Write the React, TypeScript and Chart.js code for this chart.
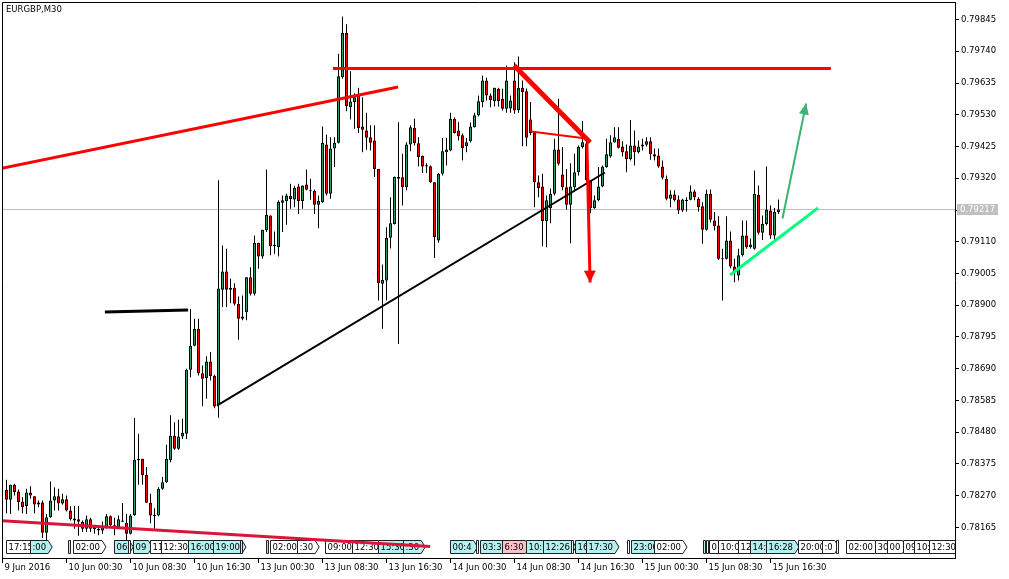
import { useEffect, useRef } from "react";
import { Chart, registerables } from "chart.js";

Chart.register(...registerables);

// ---- data -------------------------------------------------------------
const symbolTitle = "EURGBP,M30";
const FIRST_BAR = 1; // bar index of first candle (bar 0 = 9 Jun 16:30)

const opens = [
  0.7829, 0.78257, 0.78306, 0.78284, 0.78251, 0.78236, 0.78281, 0.78268, 0.78248, 0.78248,
  0.78148, 0.78199, 0.78254, 0.78268, 0.78244, 0.78258, 0.78221, 0.78195, 0.78192, 0.78184,
  0.78161, 0.78192, 0.7817, 0.78155, 0.78155, 0.78164, 0.78202, 0.78172, 0.78166, 0.78188,
  0.78181, 0.78144, 0.78206, 0.78392, 0.78392, 0.78339, 0.78247, 0.78207, 0.78205, 0.78293,
  0.78315, 0.78387, 0.78468, 0.78425, 0.78466, 0.78475, 0.78687, 0.78766, 0.78822, 0.78675,
  0.78659, 0.78714, 0.78666, 0.78572, 0.78951, 0.79012, 0.78951, 0.78958, 0.78905, 0.78855,
  0.78877, 0.78993, 0.78938, 0.79107, 0.79061, 0.79148, 0.79197, 0.79095, 0.79092, 0.79239,
  0.79244, 0.79261, 0.7925, 0.79293, 0.79245, 0.79299, 0.7928, 0.79279, 0.79232, 0.79241,
  0.79432, 0.79269, 0.79418, 0.79437, 0.79654, 0.798, 0.79555, 0.79572, 0.79594, 0.79491,
  0.79478, 0.79456, 0.79445, 0.79351, 0.78971, 0.78982, 0.79123, 0.79169, 0.79324, 0.79323,
  0.7929, 0.79432, 0.79487, 0.79436, 0.79394, 0.79359, 0.7936, 0.79307, 0.79114, 0.79335,
  0.79406, 0.79412, 0.79517, 0.79478, 0.79462, 0.79426, 0.79443, 0.79489, 0.79528, 0.79572,
  0.79643, 0.79594, 0.79575, 0.79616, 0.79583, 0.7955, 0.79551, 0.79643, 0.79546, 0.79619,
  0.79608, 0.79514, 0.7947, 0.79307, 0.79293, 0.79178, 0.79222, 0.79269, 0.79415, 0.79332,
  0.7929, 0.79232, 0.7929, 0.7934, 0.79423, 0.79435, 0.79313, 0.79221, 0.79247, 0.79293,
  0.79357, 0.79392, 0.79438, 0.79451, 0.79425, 0.79409, 0.79384, 0.79428, 0.79406, 0.79425,
  0.79431, 0.79442, 0.79399, 0.79395, 0.79359, 0.79318, 0.79252, 0.79266, 0.7925, 0.79213,
  0.79249, 0.79249, 0.79276, 0.79252, 0.79227, 0.7915, 0.79269, 0.7918, 0.79164, 0.79054,
  0.79054, 0.79114, 0.79028, 0.78998, 0.79065, 0.79131, 0.79092, 0.79087, 0.79265, 0.7914,
  0.79169, 0.79213, 0.79131, 0.79208,
];
const highs = [
  0.78323, 0.78306, 0.7831, 0.78291, 0.78265, 0.78293, 0.78301, 0.78268, 0.78254, 0.78254,
  0.7821, 0.78317, 0.78298, 0.78293, 0.78277, 0.78271, 0.78235, 0.78237, 0.78236, 0.78188,
  0.78205, 0.78197, 0.78174, 0.78172, 0.78185, 0.7821, 0.78205, 0.78197, 0.78205, 0.78246,
  0.7821, 0.7821, 0.78527, 0.78475, 0.78392, 0.78365, 0.78277, 0.78229, 0.78298, 0.78332,
  0.78439, 0.78536, 0.78513, 0.78521, 0.78525, 0.7869, 0.78888, 0.78855, 0.78855, 0.78701,
  0.78731, 0.78745, 0.7867, 0.79313, 0.79098, 0.79087, 0.78988, 0.78973, 0.78929, 0.78932,
  0.78993, 0.79026, 0.79131, 0.79107, 0.7915, 0.79349, 0.79197, 0.79144, 0.79247, 0.79263,
  0.79269, 0.79302, 0.79294, 0.79302, 0.79296, 0.79349, 0.79318, 0.79283, 0.79263, 0.79491,
  0.79464, 0.79456, 0.79456, 0.79732, 0.79855, 0.79829, 0.79674, 0.79601, 0.79619, 0.79588,
  0.79537, 0.79495, 0.79495, 0.79351, 0.79035, 0.79158, 0.79257, 0.79326, 0.79505, 0.79401,
  0.79439, 0.79495, 0.79517, 0.79456, 0.79395, 0.7937, 0.79362, 0.79307, 0.79337, 0.79453,
  0.79454, 0.79537, 0.79521, 0.79505, 0.79468, 0.79453, 0.79504, 0.79537, 0.79594, 0.7966,
  0.79652, 0.796, 0.79619, 0.79619, 0.79616, 0.79693, 0.79594, 0.79704, 0.79723, 0.79643,
  0.79617, 0.79572, 0.79471, 0.79329, 0.79335, 0.79263, 0.79286, 0.79451, 0.79583, 0.79423,
  0.79351, 0.7937, 0.79401, 0.79428, 0.79509, 0.79451, 0.79313, 0.79263, 0.79357, 0.79362,
  0.79451, 0.79462, 0.79489, 0.79489, 0.79442, 0.79432, 0.79513, 0.79478, 0.79445, 0.79451,
  0.79456, 0.79456, 0.79418, 0.79418, 0.79379, 0.79329, 0.7928, 0.7928, 0.79263, 0.79252,
  0.79257, 0.79296, 0.79282, 0.79257, 0.79241, 0.79282, 0.79283, 0.79208, 0.79194, 0.79087,
  0.79194, 0.79144, 0.79054, 0.79087, 0.7918, 0.7918, 0.79121, 0.79346, 0.79296, 0.79197,
  0.79359, 0.7923, 0.79222, 0.7925,
];
const lows = [
  0.78212, 0.7821, 0.78271, 0.78221, 0.78212, 0.7821, 0.7826, 0.78212, 0.78232, 0.7813,
  0.7812, 0.78197, 0.78221, 0.78221, 0.7824, 0.78218, 0.78188, 0.78161, 0.78138, 0.7815,
  0.7815, 0.7815, 0.78144, 0.78139, 0.78144, 0.78161, 0.78166, 0.78139, 0.78161, 0.78183,
  0.7812, 0.78142, 0.78204, 0.78306, 0.78306, 0.78246, 0.78179, 0.78161, 0.78202, 0.7829,
  0.78312, 0.78381, 0.78422, 0.78422, 0.78458, 0.78458, 0.78662, 0.78764, 0.78668, 0.78566,
  0.78591, 0.78651, 0.78559, 0.78528, 0.78894, 0.78894, 0.78907, 0.78899, 0.78786, 0.7885,
  0.7885, 0.78932, 0.78932, 0.79021, 0.79054, 0.79142, 0.79065, 0.7907, 0.79061, 0.79142,
  0.79166, 0.79219, 0.79224, 0.79202, 0.79219, 0.7928, 0.79249, 0.79202, 0.79155, 0.79239,
  0.79263, 0.79252, 0.79357, 0.79435, 0.79649, 0.79542, 0.79514, 0.79484, 0.7947, 0.79406,
  0.79414, 0.79412, 0.79324, 0.78916, 0.78822, 0.78916, 0.79088, 0.79167, 0.78772, 0.7923,
  0.7928, 0.79409, 0.79428, 0.79359, 0.79337, 0.79337, 0.79304, 0.79056, 0.79107, 0.79329,
  0.79362, 0.79409, 0.79468, 0.79445, 0.79379, 0.79406, 0.79438, 0.79488, 0.79524, 0.79555,
  0.79577, 0.79555, 0.79557, 0.79557, 0.79544, 0.79537, 0.79537, 0.79533, 0.79537, 0.79426,
  0.79426, 0.79462, 0.79224, 0.79257, 0.79095, 0.79092, 0.79171, 0.79263, 0.79362, 0.7928,
  0.79217, 0.79105, 0.7928, 0.79329, 0.79418, 0.79306, 0.79204, 0.79219, 0.79244, 0.7929,
  0.79355, 0.79388, 0.79438, 0.79418, 0.79392, 0.7934, 0.79379, 0.79362, 0.79402, 0.79412,
  0.79425, 0.79381, 0.79379, 0.79355, 0.79316, 0.79247, 0.79224, 0.79243, 0.79202, 0.79208,
  0.7921, 0.79247, 0.79247, 0.7921, 0.79103, 0.79147, 0.79174, 0.79147, 0.7905, 0.78916,
  0.79051, 0.79022, 0.78976, 0.78982, 0.79061, 0.79087, 0.79088, 0.79084, 0.79134, 0.79116,
  0.79164, 0.7912, 0.79116, 0.79202,
];
const closes = [
  0.78257, 0.78306, 0.78282, 0.78249, 0.78232, 0.78281, 0.78271, 0.78241, 0.78241, 0.78148,
  0.78199, 0.78254, 0.78268, 0.78244, 0.78258, 0.78221, 0.78193, 0.78188, 0.78184, 0.78161,
  0.78192, 0.78161, 0.78159, 0.7816, 0.78166, 0.78202, 0.78172, 0.78164, 0.78192, 0.78184,
  0.78144, 0.78205, 0.78389, 0.78387, 0.78339, 0.78247, 0.78205, 0.78203, 0.78293, 0.78315,
  0.78392, 0.78468, 0.78425, 0.78466, 0.78478, 0.78687, 0.78766, 0.78822, 0.78675, 0.78657,
  0.78714, 0.78666, 0.78565, 0.78955, 0.79012, 0.78951, 0.78958, 0.78905, 0.78855, 0.78863,
  0.78993, 0.78938, 0.79107, 0.79061, 0.7915, 0.79199, 0.79095, 0.791, 0.79242, 0.79247,
  0.79263, 0.79251, 0.79288, 0.79245, 0.79296, 0.79282, 0.79277, 0.79232, 0.79245, 0.79437,
  0.79269, 0.79418, 0.79437, 0.79657, 0.798, 0.79558, 0.79574, 0.79588, 0.79486, 0.7948,
  0.79454, 0.79437, 0.79351, 0.78973, 0.78984, 0.79122, 0.79171, 0.79324, 0.79318, 0.7929,
  0.79432, 0.79489, 0.79436, 0.7939, 0.79359, 0.79363, 0.79307, 0.79125, 0.79335, 0.79409,
  0.79415, 0.79517, 0.79469, 0.79459, 0.7942, 0.79439, 0.79491, 0.79528, 0.79575, 0.79643,
  0.79594, 0.79579, 0.79619, 0.79575, 0.7955, 0.79643, 0.79577, 0.79544, 0.79619, 0.79605,
  0.79454, 0.7947, 0.79307, 0.79288, 0.79178, 0.79247, 0.79269, 0.79415, 0.79368, 0.7929,
  0.79232, 0.79293, 0.7934, 0.79423, 0.79439, 0.79313, 0.79221, 0.79247, 0.79293, 0.79359,
  0.79399, 0.79439, 0.79456, 0.79421, 0.79406, 0.79384, 0.79428, 0.79406, 0.79425, 0.79432,
  0.79442, 0.79399, 0.79392, 0.79359, 0.79322, 0.79252, 0.79266, 0.79247, 0.79213, 0.7925,
  0.79244, 0.79276, 0.79257, 0.79224, 0.7915, 0.79269, 0.79183, 0.79161, 0.79054, 0.79052,
  0.79114, 0.79028, 0.79009, 0.79065, 0.79131, 0.79092, 0.79101, 0.79269, 0.7914, 0.79169,
  0.79216, 0.79131, 0.79208, 0.79217,
];

const priceTicks = [
  0.78165, 0.7827, 0.78375, 0.7848, 0.78585, 0.7869, 0.78795, 0.789, 0.79005,
  0.7911, 0.79215, 0.7932, 0.79425, 0.7953, 0.79635, 0.7974, 0.79845,
];
const hiddenPriceTicks = [0.79215]; // covered by the bid label
const timeTickBars = [0, 16, 32, 48, 64, 80, 96, 112, 128, 144, 160, 176, 192];
const timeTickLabels = [
  "9 Jun 2016", "10 Jun 00:30", "10 Jun 08:30", "10 Jun 16:30", "13 Jun 00:30",
  "13 Jun 08:30", "13 Jun 16:30", "14 Jun 00:30", "14 Jun 08:30", "14 Jun 16:30",
  "15 Jun 00:30", "15 Jun 08:30", "15 Jun 16:30",
];

// analyst drawings: [bar, price] pairs
const redRisingLine = [[-0.6, 0.79352], [98.9, 0.79622]];
const redResistance = [[82.6, 0.79683], [207.1, 0.79683]];
const redThickDiagonal = [[127.9, 0.79693], [146.9, 0.79438]];
const redThinLine = [[132.1, 0.79475], [146.4, 0.79451]];
const redDownArrow = [[146.1, 0.79435], [146.9, 0.78975]];
const blackSupport = [[53.6, 0.78568], [150.6, 0.79339]];
const blackShortLine = [[25.6, 0.78878], [46.4, 0.78884]];
const crimsonLowLine = [[-0.6, 0.78188], [106.9, 0.78102]];
const greenSupport = [[181.9, 0.79], [203.9, 0.79222]];
const greenUpArrow = [[195, 0.79187], [200.9, 0.79567]];

// calendar event tags along the bottom
const eventBars = [
  0.9, 6.9, 16.4, 17.6, 27.9, 31.4, 32.6, 36.9, 39.6, 46.4, 52.6, 59.4, 65.9, 66.9, 73.6,
  80.6, 87.4, 93.9, 100.1, 111.9, 118.4, 119.4, 124.9, 130.9, 135.1, 142.1, 143.1, 145.9,
  156.1, 157.1, 162.9, 175.1, 175.9, 176.6, 178.9, 183.9, 186.9, 190.9, 198.9, 204.9, 208.4,
  210.9, 218.1, 221.1, 225.1, 227.9, 231.6,
];
const eventTexts = [
  "17:15", ":00", "", "02:00", "06", "", "09", "11", "12:30", "16:00", "19:00", "", "",
  "02:00", ":30", "09:00", "12:30", "15:30", ":30", "00:4", "", "03:30", "6:30", "10:",
  "12:26", "", "16", "17:30", "", "23:00", "02:00", "", "", "0", "10:0", "12", "14:",
  "16:28", "20:00", ":0", "", "02:00", "30", "00", "09", "10:", "12:30",
];
const eventKinds = "wccwcwcwwcccpwwwwcccwcpccwccwcwcwwwwccwwwwwwwww";

// ---- chart -------------------------------------------------------------
const FONT = "'DejaVu Sans', Verdana, sans-serif";
const FONT_SIZE = 8.5;
const X_MIN = -0.125;
const X_MAX = X_MIN + 953 / 4;
const Y_MIN = 0.780641;
const Y_MAX = 0.799029;
const BULL = "#2E9E5E";
const BEAR = "#FF0000";

export default function App() {
  const ref = useRef<HTMLCanvasElement>(null);

  useEffect(() => {
    const canvas = ref.current;
    if (!canvas) return;
    const bars = opens.map((_, k) => FIRST_BAR + k);
    const wickData = bars.map((b, k) => ({ x: b, y: [lows[k], highs[k]] }));
    const bodyData = bars.map((b, k) => ({
      x: b,
      y: [Math.min(opens[k], closes[k]), Math.max(opens[k], closes[k])],
    }));
    const bodyColors = bars.map((_, k) => (closes[k] >= opens[k] ? BULL : BEAR));
    const lastPrice = closes[closes.length - 1];

    const line = (pts: number[][], color: string, width: number, label: string) => ({
      type: "line" as const,
      label,
      data: pts.map(([x, y]) => ({ x, y })),
      borderColor: color,
      backgroundColor: color,
      borderWidth: width,
      pointRadius: 0,
      pointHoverRadius: 0,
      fill: false,
      tension: 0,
      order: 0,
      borderCapStyle: "butt" as const,
    });

    const mtPlugin = {
      id: "mt4look",
      beforeDraw(chart: any) {
        const { ctx } = chart;
        ctx.save();
        ctx.fillStyle = "#ffffff";
        ctx.fillRect(0, 0, chart.width, chart.height);
        ctx.restore();
      },
      beforeDatasetsDraw(chart: any) {
        const { ctx, chartArea: a } = chart;
        const xs = chart.scales.x;
        const ys = chart.scales.y;
        ctx.save();
        // bid line
        const yb = Math.round(ys.getPixelForValue(lastPrice)) + 0.5;
        ctx.strokeStyle = "#C0C0C0";
        ctx.lineWidth = 1;
        ctx.beginPath();
        ctx.moveTo(a.left, yb);
        ctx.lineTo(a.right, yb);
        ctx.stroke();
        // event tags
        ctx.beginPath();
        ctx.rect(a.left, a.top, a.right - a.left, a.bottom - a.top);
        ctx.clip();
        ctx.font = `${FONT_SIZE}px ${FONT}`;
        ctx.textBaseline = "middle";
        const top = a.bottom - 17.5;
        const h = 13;
        eventBars.forEach((b, i) => {
          const x0 = Math.round(xs.getPixelForValue(b)) + 0.5;
          const t = eventTexts[i];
          const k = eventKinds[i];
          const fill = k === "c" ? "#B4F0F0" : k === "p" ? "#FFC0C8" : "#FFFFFF";
          const w = t ? ctx.measureText(t).width + 4 : 2;
          ctx.beginPath();
          ctx.moveTo(x0, top);
          ctx.lineTo(x0 + w, top);
          if (t) ctx.lineTo(x0 + w + 4, top + h / 2);
          ctx.lineTo(x0 + w, top + h);
          ctx.lineTo(x0, top + h);
          ctx.closePath();
          ctx.fillStyle = fill;
          ctx.fill();
          ctx.strokeStyle = "#202020";
          ctx.lineWidth = 1;
          ctx.stroke();
          if (t) {
            ctx.fillStyle = "#000";
            ctx.fillText(t, x0 + 2, top + h / 2 + 0.5);
          }
        });
        ctx.restore();
      },
      afterDatasetsDraw(chart: any) {
        const { ctx } = chart;
        ctx.save();
        chart.data.datasets.forEach((ds: any, i: number) => {
          if (ds.label !== "redArrow" && ds.label !== "greenArrow") return;
          const pts = chart.getDatasetMeta(i).data;
          const p0 = pts[0];
          const p1 = pts[pts.length - 1];
          const ang = Math.atan2(p1.y - p0.y, p1.x - p0.x);
          const len = ds.label === "redArrow" ? 12 : 11;
          const half = ds.label === "redArrow" ? 6 : 5;
          const bx = p1.x - len * Math.cos(ang);
          const by = p1.y - len * Math.sin(ang);
          ctx.fillStyle = ds.borderColor;
          ctx.beginPath();
          ctx.moveTo(p1.x, p1.y);
          ctx.lineTo(bx + half * Math.sin(ang), by - half * Math.cos(ang));
          ctx.lineTo(bx - half * Math.sin(ang), by + half * Math.cos(ang));
          ctx.closePath();
          ctx.fill();
        });
        ctx.restore();
      },
      afterDraw(chart: any) {
        const { ctx, chartArea: a } = chart;
        const ys = chart.scales.y;
        ctx.save();
        // frame: top and left edges
        ctx.strokeStyle = "#000";
        ctx.lineWidth = 1;
        ctx.beginPath();
        ctx.moveTo(a.left + 0.5, a.bottom);
        ctx.lineTo(a.left + 0.5, a.top + 0.5);
        ctx.lineTo(a.right + 1, a.top + 0.5);
        ctx.stroke();
        // title
        ctx.fillStyle = "#000";
        ctx.font = `${FONT_SIZE}px ${FONT}`;
        ctx.textBaseline = "middle";
        ctx.fillText(symbolTitle, a.left + 4, a.top + 8);
        // bid label
        const yb = Math.round(ys.getPixelForValue(lastPrice));
        ctx.fillStyle = "#C0C0C0";
        ctx.fillRect(a.right + 2, yb - 5, 41, 11);
        ctx.fillStyle = "#ffffff";
        ctx.fillText(lastPrice.toFixed(5), a.right + 5, yb + 0.5);
        ctx.restore();
      },
    };

    const chart = new Chart(canvas, {
      type: "bar",
      data: {
        datasets: [
          {
            label: "wicks",
            data: wickData as any,
            backgroundColor: "#000000",
            borderWidth: 0,
            barThickness: 1,
            grouped: false,
            inflateAmount: 0,
            order: 3,
          } as any,
          {
            label: "bodies",
            data: bodyData as any,
            backgroundColor: bodyColors,
            borderColor: "#000000",
            borderWidth: 1,
            borderSkipped: false,
            barThickness: 3,
            minBarLength: 1,
            grouped: false,
            inflateAmount: 0,
            order: 2,
          } as any,
          line(redRisingLine, "#FF0000", 3, "redRising"),
          line(redResistance, "#FF0000", 3, "redRes"),
          line(redThickDiagonal, "#FF0000", 5, "redThick"),
          line(redThinLine, "#FF0000", 2, "redThin"),
          line(redDownArrow, "#FF0000", 3, "redArrow"),
          line(blackSupport, "#000000", 2, "blackSupport"),
          line(blackShortLine, "#000000", 3, "blackShort"),
          line(crimsonLowLine, "#DC143C", 3, "crimson"),
          line(greenSupport, "#00FF7F", 3, "greenSupport"),
          line(greenUpArrow, "#3CB371", 2, "greenArrow"),
        ] as any,
      },
      options: {
        responsive: false,
        animation: false,
        devicePixelRatio: 1,
        layout: { padding: { left: 2, top: 2, right: 0, bottom: 0 } },
        plugins: { legend: { display: false }, tooltip: { enabled: false } },
        events: [],
        scales: {
          x: {
            type: "linear",
            position: "bottom",
            min: X_MIN,
            max: X_MAX,
            offset: false,
            grid: { display: true, drawOnChartArea: false, drawTicks: true, tickLength: 5, color: "#000", offset: false },
            border: { display: true, color: "#000", width: 1 },
            ticks: {
              autoSkip: false,
              maxRotation: 0,
              minRotation: 0,
              align: "start",
              labelOffset: 2,
              padding: 0,
              color: "#000",
              font: { family: FONT, size: FONT_SIZE },
              callback: (_v: any, idx: number) => timeTickLabels[idx] ?? "",
            },
            afterBuildTicks: (s: any) => {
              s.ticks = timeTickBars.map((v) => ({ value: v }));
            },
            afterFit: (s: any) => {
              s.height = 21;
              s.paddingLeft = 0;
              s.paddingRight = 0;
            },
          },
          y: {
            type: "linear",
            position: "right",
            min: Y_MIN,
            max: Y_MAX,
            beginAtZero: false,
            grid: { display: true, drawOnChartArea: false, drawTicks: true, tickLength: 4, color: "#000" },
            border: { display: true, color: "#000", width: 1 },
            ticks: {
              autoSkip: false,
              padding: 2,
              crossAlign: "near",
              color: "#000",
              font: { family: FONT, size: FONT_SIZE },
              callback: (v: any) =>
                hiddenPriceTicks.includes(Number(v)) ? "" : Number(v).toFixed(5),
            },
            afterBuildTicks: (s: any) => {
              s.ticks = priceTicks.map((v) => ({ value: v }));
            },
            afterFit: (s: any) => {
              s.width = 54;
              s.paddingTop = 0;
              s.paddingBottom = 0;
            },
          },
        },
      } as any,
      plugins: [mtPlugin],
    });
    return () => chart.destroy();
  }, []);

  return (
    <div style={{ position: "fixed", left: 0, top: 0, width: 1009, height: 579, background: "#fff" }}>
      <canvas ref={ref} width={1009} height={579} style={{ display: "block" }} />
    </div>
  );
}
